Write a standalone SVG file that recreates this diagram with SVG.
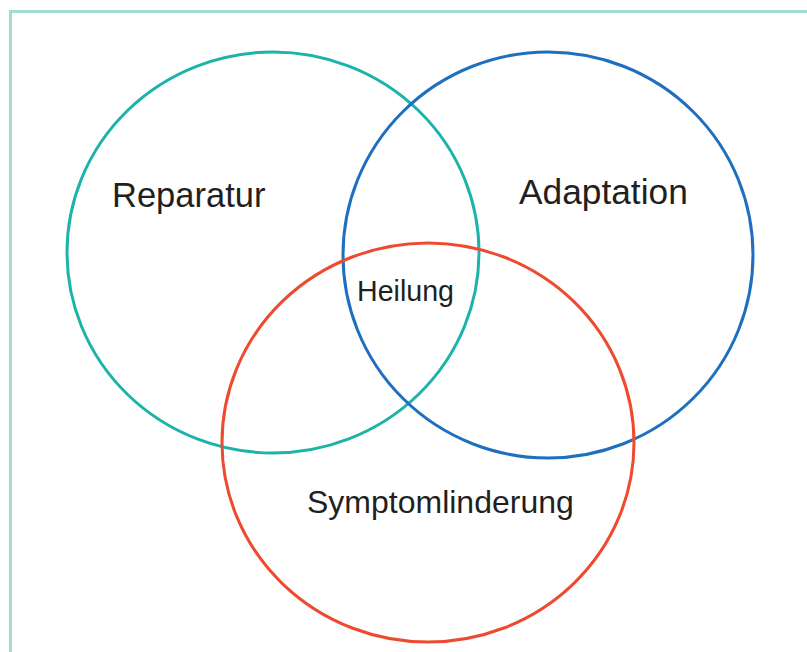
<svg xmlns="http://www.w3.org/2000/svg" width="807" height="652" viewBox="0 0 807 652">
<style>
.c{fill:none;stroke-width:3}
.t{font-family:"Liberation Sans",Arial,sans-serif;fill:#231f20}
</style>
<rect width="807" height="652" fill="#fff"/>
<path d="M10.5 652 V11.5 H807" fill="none" stroke="#a3dbd0" stroke-width="3"/>
<g id="reparatur">
<ellipse class="c" cx="273" cy="252.5" rx="206" ry="200.5" stroke="#1db3ab"/>
<text class="t" x="112" y="207" font-size="34.5">Reparatur</text>
</g>
<g id="adaptation">
<ellipse class="c" cx="548" cy="255" rx="205" ry="203" stroke="#1e70bf"/>
<text class="t" x="519" y="204" font-size="35.3">Adaptation</text>
</g>
<g id="symptomlinderung">
<ellipse class="c" cx="428" cy="442.5" rx="206" ry="199.5" stroke="#ee4a2f"/>
<text class="t" x="307" y="513" font-size="32">Symptomlinderung</text>
</g>
<g id="heilung">
<text class="t" x="357" y="301" font-size="28.6">Heilung</text>
</g>
<g id="connectors"/>
</svg>
